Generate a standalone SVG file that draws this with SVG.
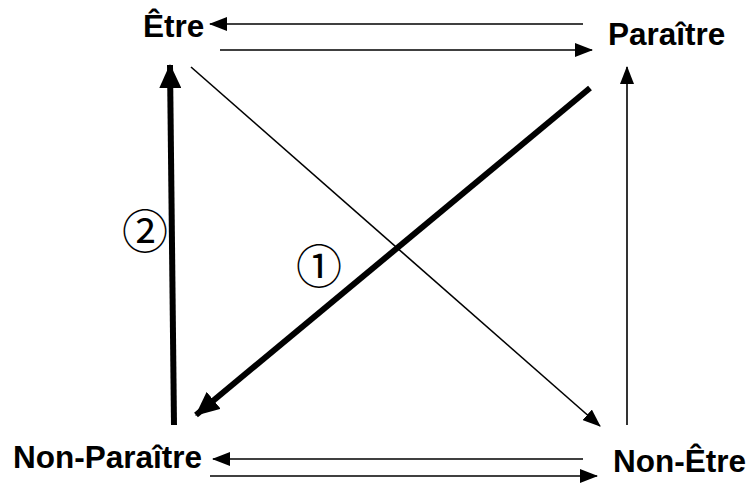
<svg xmlns="http://www.w3.org/2000/svg" width="754" height="490" viewBox="0 0 754 490">
<style>
.lbl{font-family:"Liberation Sans",Arial,sans-serif;font-weight:bold;font-size:31.5px;fill:#000}
.num{font-family:"Noto Sans CJK JP","DejaVu Sans",sans-serif;font-size:46px;fill:#000}
.thin{stroke:#000;stroke-width:1.6;fill:none;marker-end:url(#ah)}
.thick{stroke:#000;stroke-width:6;fill:none;marker-end:url(#ahb)}
</style>
<defs>
<marker id="ah" markerUnits="userSpaceOnUse" markerWidth="18" markerHeight="14" refX="17" refY="7" orient="auto"><path d="M0,0 L18,7 L0,14 Z" fill="#000"/></marker>
<marker id="ahb" markerUnits="userSpaceOnUse" markerWidth="24" markerHeight="22" refX="23" refY="11" orient="auto"><path d="M0,0 L24,11 L0,22 Z" fill="#000"/></marker>
</defs>
<g id="etre"><text class="lbl" x="143" y="37">Être</text></g>
<g id="paraitre"><text class="lbl" x="608" y="45">Paraître</text></g>
<g id="non-paraitre"><text class="lbl" x="13" y="468">Non-Paraître</text></g>
<g id="non-etre"><text class="lbl" x="613" y="472">Non-Être</text></g>
<g id="labels">
<text class="num" x="319" y="283" text-anchor="middle">①</text>
<text class="num" x="145" y="248" text-anchor="middle">②</text>
</g>
<g id="connectors">
<line class="thin" x1="583" y1="24" x2="210" y2="24"/>
<line class="thin" x1="220" y1="50" x2="592" y2="50"/>
<line class="thin" x1="627" y1="425" x2="627" y2="67"/>
<line class="thin" x1="191" y1="67" x2="600" y2="426"/>
<line class="thin" x1="583" y1="459" x2="213" y2="459"/>
<line class="thin" x1="210" y1="476" x2="597" y2="476"/>
<line class="thick" x1="590" y1="88" x2="196" y2="415"/>
<line class="thick" x1="174" y1="425" x2="170" y2="65"/>
</g>
</svg>
